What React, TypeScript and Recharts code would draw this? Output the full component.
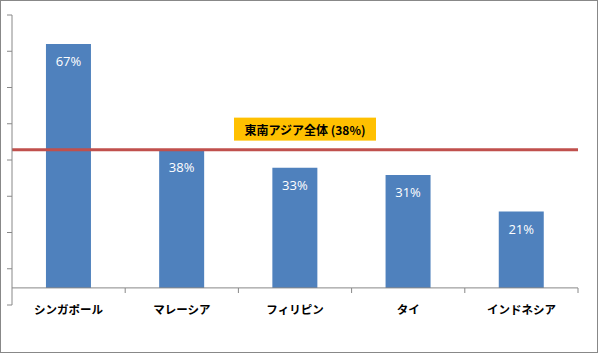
import { ComposedChart, Bar, Line, XAxis, YAxis, ReferenceLine, LabelList } from "recharts";

// ─── Data ────────────────────────────────────────────────
const COUNTRIES = ["シンガポール", "マレーシア", "フィリピン", "タイ", "インドネシア"];
const SHARES = [67, 38, 33, 31, 21];
const REGION_AVG = 38;
const REGION_LABEL = "東南アジア全体 (38%)";
const AXIS_TICKS = [0, 10, 20, 30, 40, 50, 60, 70, 80];

const data = COUNTRIES.map((country, i) => ({ country, share: SHARES[i] }));

const JP_FONT = "'Noto Sans CJK JP', 'Noto Sans', sans-serif";
const AXIS_COLOR = "#888888";
const BAR_COLOR = "#4F81BD";
// the category axis sits a little above the bottom end of the visible value axis
const AXIS_GAP = 17;
const TICK_LEN = 5;

// ─── Value axis tick: only a short mark, no text ─────────
function ValueTick(props: any) {
  const { x, y } = props;
  return <line x1={x} x2={x + TICK_LEN} y1={y} y2={y} stroke={AXIS_COLOR} strokeWidth={1} />;
}

// ─── Category tick: label + boundary mark on the category axis ───
function CategoryTick(props: any) {
  const { x, y, payload, width, visibleTicksCount } = props;
  const half = width && visibleTicksCount ? width / visibleTicksCount / 2 : 56.6;
  const axisY = y - AXIS_GAP;
  return (
    <g>
      <line
        x1={x + half}
        x2={x + half}
        y1={axisY}
        y2={axisY + 5}
        stroke={AXIS_COLOR}
        strokeWidth={1}
      />
      <text
        x={x}
        y={y + 4}
        textAnchor="middle"
        dominantBaseline="central"
        fontFamily={JP_FONT}
        fontWeight="bold"
        fontSize={11.5}
        fill="#000"
      >
        {payload.value}
      </text>
    </g>
  );
}

// ─── Box label above the region line ─────────────────────
function RegionLabel(props: any) {
  const { viewBox } = props;
  if (!viewBox) return null;
  const cx = viewBox.x + viewBox.width / 2 + 10;
  const boxW = 142;
  const boxH = 23;
  const bottom = viewBox.y - 9;
  return (
    <g>
      <rect x={cx - boxW / 2} y={bottom - boxH} width={boxW} height={boxH} fill="#FFC000" />
      <text
        x={cx}
        y={bottom - boxH / 2}
        textAnchor="middle"
        dominantBaseline="central"
        fontFamily={JP_FONT}
        fontWeight="bold"
        fontSize={12}
        fill="#000"
      >
        {REGION_LABEL}
      </text>
    </g>
  );
}

export default function App() {
  return (
    <div style={{ position: "absolute", left: 0, top: 0, width: 598, height: 353, background: "#fff" }}>
      <ComposedChart
        width={598}
        height={353}
        data={data}
        margin={{ top: 15, right: 20, left: 6, bottom: 0 }}
        barCategoryGap="30%"
      >
        <XAxis
          dataKey="country"
          height={48}
          axisLine={false}
          tickLine={false}
          tickSize={0}
          tickMargin={0}
          interval={0}
          tick={<CategoryTick />}
        />
        <YAxis
          yAxisId="axis"
          width={6}
          domain={[0, 80]}
          ticks={AXIS_TICKS}
          interval={0}
          axisLine={{ stroke: AXIS_COLOR }}
          tickLine={false}
          tickSize={TICK_LEN}
          tickMargin={0}
          tick={<ValueTick />}
        />
        <YAxis yAxisId="val" hide domain={[-4.7, 75]} allowDataOverflow />
        <ReferenceLine yAxisId="val" y={0} stroke={AXIS_COLOR} strokeWidth={1} />
        <Bar yAxisId="val" dataKey="share" fill={BAR_COLOR} isAnimationActive={false}>
          <LabelList
            dataKey="share"
            position="insideTop"
            offset={13}
            formatter={(v: any) => `${v}%`}
            fill="#fff"
            fontSize={13}
            fontFamily="'Open Sans', 'Noto Sans', sans-serif"
          />
        </Bar>
        {/* invisible series so the visible value axis has something bound to it */}
        <Line
          yAxisId="axis"
          dataKey="share"
          stroke="none"
          dot={false}
          activeDot={false}
          legendType="none"
          isAnimationActive={false}
        />
        <ReferenceLine
          yAxisId="val"
          y={REGION_AVG}
          stroke="#C0504D"
          strokeWidth={3}
          label={<RegionLabel />}
        />
      </ComposedChart>
      <div
        style={{
          position: "absolute",
          left: 0,
          top: 0,
          width: 598,
          height: 353,
          border: "1px solid #888",
          boxSizing: "border-box",
          pointerEvents: "none",
        }}
      />
    </div>
  );
}
